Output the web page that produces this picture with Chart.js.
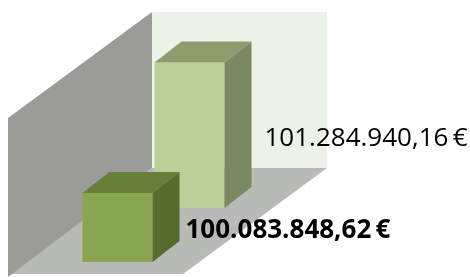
<!DOCTYPE html>
<html>
<head>
<meta charset="utf-8">
<script src="https://cdn.jsdelivr.net/npm/chart.js@4/dist/chart.umd.min.js"></script>
<style>
    html, body { margin: 0; padding: 0; background: #ffffff; }
    #wrap { width: 470px; height: 277px; position: relative; }
</style>
</head>
<body>
<div id="wrap"><canvas id="depthChart"></canvas></div>
<script>
// values
const categories = [''];
const frontValues = [100083848.62];
const backValues = [101284940.16];
const axisMin = 99000000;
const axisMax = 101450000;

// look of the 3d box
const depthVec = { x: 144, y: -106 };
const barDepth = { x: 27, y: -21 };
const shifts = [{ x: 22, y: -12 }, { x: 94, y: -66 }];
const faces = [
    { front: '#8aa54f', top: '#677f39', side: '#566b2e' },
    { front: '#bbcf98', top: '#8e9d6e', side: '#7b8962' },
];
const labelFonts = ['bold 26px "Open Sans"', '26px "Open Sans"'];
const labelGaps = [6, 13];

const euro = (v) => {
    const parts = v.toFixed(2).split('.');
    const int = parts[0].replace(/\B(?=(\d{3})+(?!\d))/g, '.');
    return int + ',' + parts[1] + '\u2009€';
};

const poly = (ctx, pts, color) => {
    ctx.beginPath();
    ctx.moveTo(pts[0][0], pts[0][1]);
    for (let i = 1; i < pts.length; i++) {
        ctx.lineTo(pts[i][0], pts[i][1]);
    }
    ctx.closePath();
    ctx.fillStyle = color;
    ctx.fill();
};

const barBox = (chart, el) => {
    const base = chart.scales.y.getPixelForValue(axisMin);
    return { x: el.x, y: el.y, base: base, width: el.width };
};

const box3d = {
    id: 'box3d',
    beforeDatasetsDraw(chart) {
        const { ctx, chartArea: a } = chart;
        const dx = depthVec.x, dy = depthVec.y;
        ctx.save();
        // back wall
        poly(ctx, [[a.left + dx, a.top + dy], [a.right + dx, a.top + dy], [a.right + dx, a.bottom + dy], [a.left + dx, a.bottom + dy]], '#edf2e8');
        // floor
        poly(ctx, [[a.left, a.bottom], [a.right, a.bottom], [a.right + dx, a.bottom + dy], [a.left + dx, a.bottom + dy]], '#b8bab6');
        // side wall
        poly(ctx, [[a.left, a.top], [a.left + dx, a.top + dy], [a.left + dx, a.bottom + dy], [a.left, a.bottom + 3]], '#9b9c98');
        ctx.restore();
    },
    beforeDatasetDraw(chart, args) {
        const s = shifts[args.index];
        chart.ctx.save();
        chart.ctx.translate(s.x, s.y);
    },
    afterDatasetDraw(chart, args) {
        const { ctx } = chart;
        const c = faces[args.index];
        args.meta.data.forEach((el) => {
            const { x, y, base, width } = barBox(chart, el);
            const l = x - width / 2, r = x + width / 2;
            poly(ctx, [[l, y], [r, y], [r + barDepth.x, y + barDepth.y], [l + barDepth.x, y + barDepth.y]], c.top);
            poly(ctx, [[r, y], [r + barDepth.x, y + barDepth.y], [r + barDepth.x, base + barDepth.y], [r, base]], c.side);
        });
        ctx.restore();
    },
    afterDatasetsDraw(chart) {
        const { ctx } = chart;
        chart.data.datasets.forEach((ds, i) => {
            const s = shifts[i];
            chart.getDatasetMeta(i).data.forEach((el, j) => {
                const { x, y, base, width } = barBox(chart, el);
                ctx.save();
                ctx.font = labelFonts[i];
                ctx.fillStyle = '#000000';
                ctx.textAlign = 'left';
                ctx.textBaseline = 'middle';
                ctx.fillText(euro(ds.data[j]), x + width / 2 + barDepth.x + s.x + labelGaps[i], (y + base) / 2 + s.y + 3);
                ctx.restore();
            });
        });
    },
};

new Chart(document.getElementById('depthChart'), {
    type: 'bar',
    data: {
        labels: categories,
        datasets: [
            { data: frontValues, backgroundColor: faces[0].front, borderWidth: 0, grouped: false },
            { data: backValues, backgroundColor: faces[1].front, borderWidth: 0, grouped: false },
        ],
    },
    options: {
        responsive: true,
        maintainAspectRatio: false,
        animation: false,
        layout: { padding: { left: 8, right: 287, top: 118, bottom: 3 } },
        datasets: { bar: { barPercentage: 1, categoryPercentage: 0.4 } },
        plugins: { legend: { display: false }, tooltip: { enabled: false } },
        scales: {
            x: { display: false },
            y: { display: false, min: axisMin, max: axisMax },
        },
    },
    plugins: [box3d],
});
</script>
</body>
</html>
